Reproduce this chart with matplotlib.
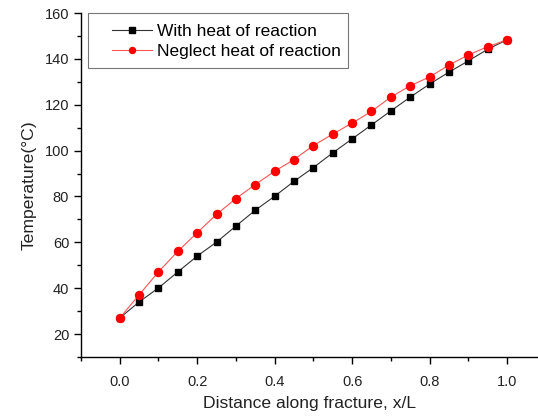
import numpy as np
import matplotlib.pyplot as plt
from matplotlib.ticker import MultipleLocator
from matplotlib.patches import Rectangle

plt.rcParams['font.family'] = ['Liberation Sans', 'DejaVu Sans']

x = [0.0, 0.05, 0.1, 0.15, 0.2, 0.25, 0.3, 0.35, 0.4, 0.45, 0.5,
     0.55, 0.6, 0.65, 0.7, 0.75, 0.8, 0.85, 0.9, 0.95, 1.0]
with_heat = [27, 34, 40.1, 47.1, 54, 60.1, 67.1, 74, 80.1, 86.6, 92.6,
             99, 105.1, 111.2, 117.3, 123.3, 129, 134.2, 139.1, 144.2, 148.3]
neglect_heat = [27, 37.1, 47.1, 56.1, 64.2, 72.2, 79.1, 85.2, 91, 96.1, 102.2,
                107.2, 112, 117.1, 123.3, 128.3, 132.1, 137.3, 141.7, 145.3, 148.3]

W, H = 538, 419
fig = plt.figure(figsize=(W/100, H/100), dpi=100)
ax = fig.add_axes([81/W, 62/H, 1 - 81/W, (357 - 13)/H])

ax.plot(x, with_heat, color='#333333', lw=0.8, marker='s', ms=5,
        mfc='black', mec='black', label='With heat of reaction')
ax.plot(x, neglect_heat, color='#ff5555', lw=0.8, marker='o', ms=5.8,
        mfc='red', mec='red', label='Neglect heat of reaction')

ax.set_xlim(-0.1, 1.08)
ax.set_ylim(10, 160)
ax.xaxis.set_major_locator(MultipleLocator(0.2))
ax.xaxis.set_minor_locator(MultipleLocator(0.1))
ax.yaxis.set_major_locator(MultipleLocator(20))
ax.yaxis.set_minor_locator(MultipleLocator(10))
ax.set_yticks([20, 40, 60, 80, 100, 120, 140, 160])

ax.spines['top'].set_visible(False)
ax.spines['right'].set_visible(False)
for s in ['left', 'bottom']:
    ax.spines[s].set_linewidth(1.0)
ax.tick_params(which='major', direction='out', length=5, width=1, labelsize=10.5, colors='black')
ax.tick_params(which='minor', direction='out', length=3, width=1)
ax.tick_params(axis='x', pad=8)
for lab in ax.get_xticklabels() + ax.get_yticklabels():
    lab.set_color('#222222')

ax.set_xlabel('Distance along fracture, x/L', fontsize=12.6, color='#222222', labelpad=5)
ax.set_ylabel('Temperature(°C)', fontsize=12.6, color='#222222', labelpad=6)

# legend frame drawn separately (wide left padding in the original)
fig.patches.append(Rectangle((88/W, 1 - 68/H), 260/W, 55/H, transform=fig.transFigure,
                             fill=False, ec='#777777', lw=0.8))
leg = ax.legend(loc='upper left', bbox_to_anchor=(112/W, 1 - 24/H),
                bbox_transform=fig.transFigure, fontsize=12.5, frameon=False,
                handlelength=2.3, borderpad=0, borderaxespad=0,
                labelspacing=0.25, handletextpad=0.3, markerscale=0.75)

plt.savefig('out.png', dpi=100)
